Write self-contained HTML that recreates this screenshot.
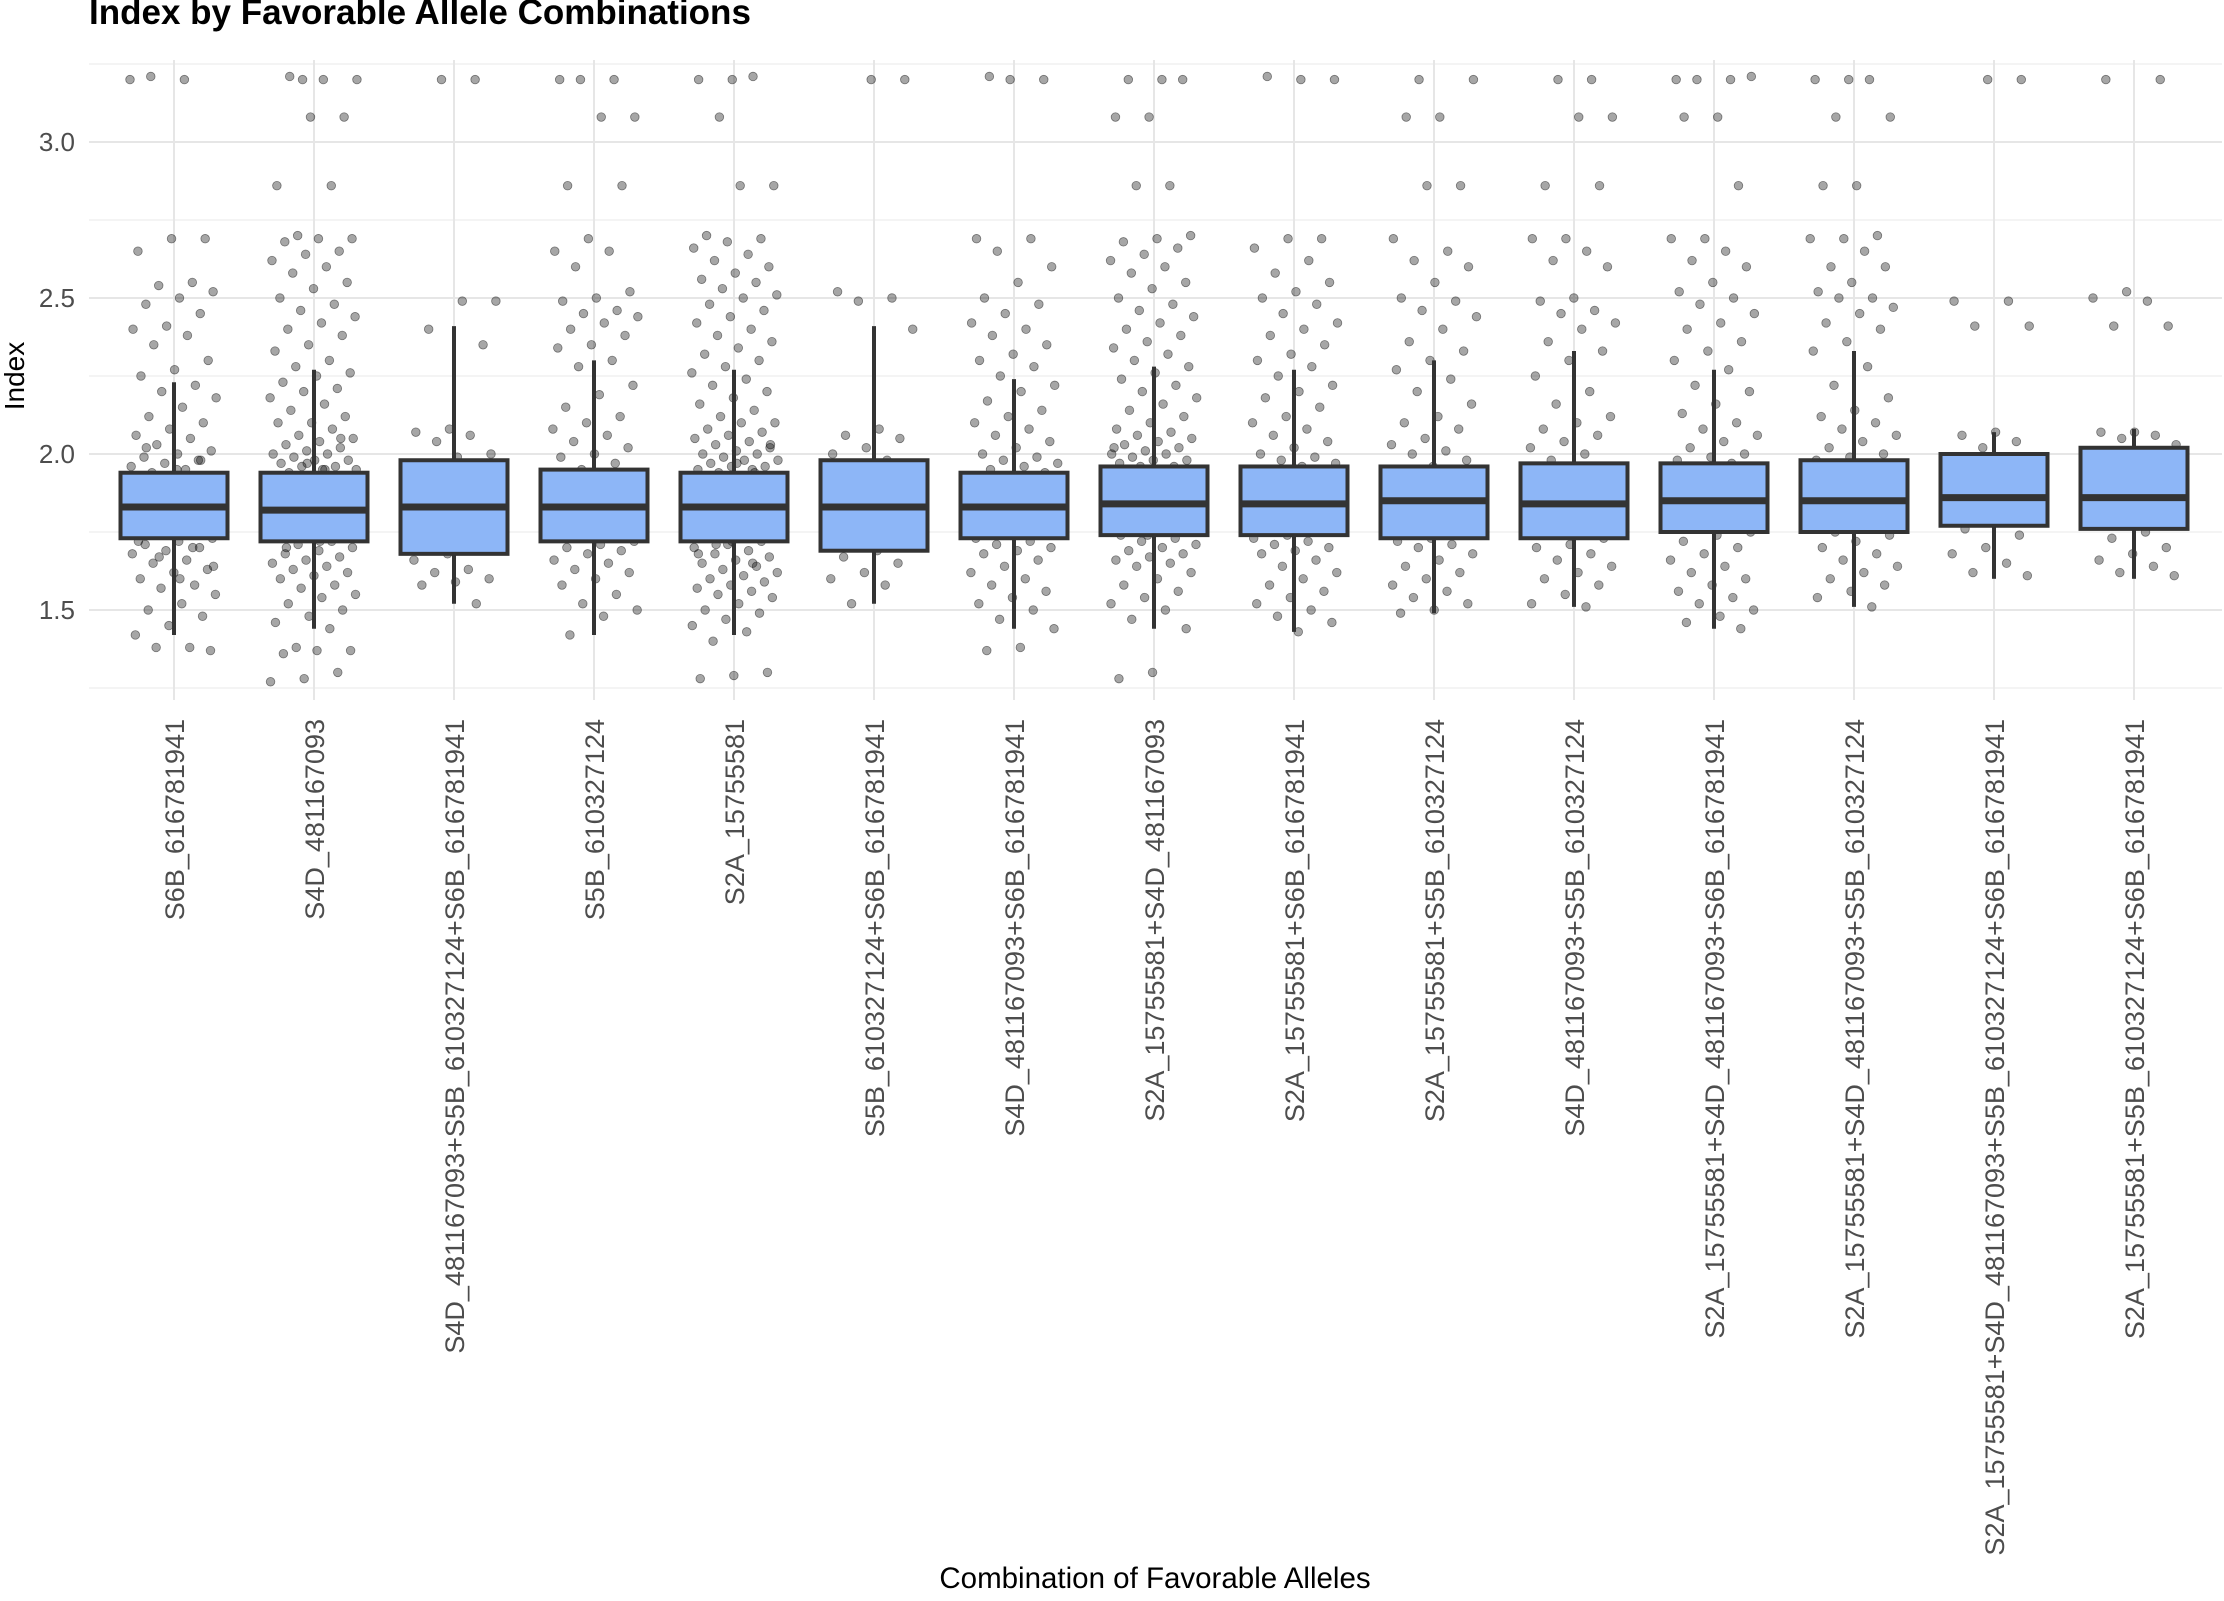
<!DOCTYPE html>
<html><head><meta charset="utf-8">
<style>
html,body{margin:0;padding:0;background:#fff;}
svg{display:block;font-family:"Liberation Sans",Arial,sans-serif;}
</style></head>
<body>
<svg id="chart" width="2224" height="1601" viewBox="0 0 2224 1601">
  <text x="89" y="24" font-size="35" font-weight="bold" fill="#000">Index by Favorable Allele Combinations</text>
  <g id="grid"></g>
  <g id="yticks"></g>
  <g id="points"></g>
  <g id="boxes"></g>
  <g id="xlabels"></g>
  <text x="0" y="0" transform="translate(24,376) rotate(-90)" text-anchor="middle" font-size="28" fill="#000">Index</text>
  <text x="1155" y="1588" text-anchor="middle" font-size="29.5" fill="#000">Combination of Favorable Alleles</text>
</svg>
<script>
const categories = ["S6B_616781941","S4D_481167093","S4D_481167093+S5B_610327124+S6B_616781941","S5B_610327124","S2A_15755581","S5B_610327124+S6B_616781941","S4D_481167093+S6B_616781941","S2A_15755581+S4D_481167093","S2A_15755581+S6B_616781941","S2A_15755581+S5B_610327124","S4D_481167093+S5B_610327124","S2A_15755581+S4D_481167093+S6B_616781941","S2A_15755581+S4D_481167093+S5B_610327124","S2A_15755581+S4D_481167093+S5B_610327124+S6B_616781941","S2A_15755581+S5B_610327124+S6B_616781941"];
const q1 = [1.73,1.72,1.68,1.72,1.72,1.69,1.73,1.74,1.74,1.73,1.73,1.75,1.75,1.77,1.76];
const medians = [1.83,1.82,1.83,1.83,1.83,1.83,1.83,1.84,1.84,1.85,1.84,1.85,1.85,1.86,1.86];
const q3 = [1.94,1.94,1.98,1.95,1.94,1.98,1.94,1.96,1.96,1.96,1.97,1.97,1.98,2.00,2.02];
const whiskerLow = [1.42,1.44,1.52,1.42,1.42,1.52,1.44,1.44,1.43,1.49,1.51,1.44,1.51,1.60,1.60];
const whiskerHigh = [2.23,2.27,2.41,2.30,2.27,2.41,2.24,2.28,2.27,2.30,2.33,2.27,2.33,2.07,2.08];
const yTicks = [1.5,2.0,2.5,3.0];
const yTickLabels = ["1.5","2.0","2.5","3.0"];
const yMinor = [1.25,1.75,2.25,2.75,3.25];
const pts0 = [3.2,3.2,3.21,2.69,2.69,2.65,2.55,2.54,2.52,2.5,2.48,2.45,2.41,2.4,2.38,2.35,2.3,2.27,2.25,2.22,2.2,2.18,2.15,2.12,2.1,2.08,2.06,2.05,2.03,2.01,2.0,1.99,1.98,1.97,1.96,1.95,1.94,1.93,1.92,1.91,1.9,1.9,1.89,1.88,1.87,1.86,1.86,1.85,1.84,1.84,1.83,1.83,1.82,1.82,1.81,1.8,1.8,1.79,1.78,1.77,1.76,1.75,1.74,1.73,1.72,1.71,1.7,1.69,1.68,1.66,1.65,1.63,1.62,1.6,1.58,1.57,1.55,1.52,1.5,1.48,1.45,1.42,1.38,1.38,1.37,1.95,1.9,1.87,1.85,1.83,1.81,1.79,1.77,1.75,1.72,1.7,1.67,1.64,1.6,2.02,1.98,1.92,1.88];
const pts1 = [3.2,3.2,3.2,3.21,3.08,3.08,2.86,2.86,2.7,2.69,2.69,2.68,2.65,2.64,2.62,2.6,2.58,2.55,2.53,2.5,2.48,2.46,2.44,2.42,2.4,2.38,2.35,2.33,2.3,2.28,2.26,2.25,2.23,2.21,2.2,2.18,2.16,2.14,2.12,2.1,2.1,2.08,2.06,2.05,2.04,2.03,2.02,2.01,2.0,2.0,1.99,1.98,1.98,1.97,1.96,1.96,1.95,1.95,1.94,1.93,1.93,1.92,1.91,1.91,1.9,1.9,1.89,1.88,1.88,1.87,1.87,1.86,1.86,1.85,1.85,1.84,1.84,1.83,1.83,1.82,1.82,1.81,1.81,1.8,1.8,1.79,1.79,1.78,1.78,1.77,1.76,1.76,1.75,1.74,1.74,1.73,1.72,1.71,1.7,1.69,1.68,1.67,1.66,1.65,1.64,1.63,1.62,1.61,1.6,1.58,1.57,1.55,1.54,1.52,1.5,1.48,1.46,1.44,1.38,1.37,1.37,1.36,1.3,1.28,1.27,1.95,1.9,1.86,1.84,1.82,1.8,1.78,1.75,1.72,1.7,2.05,1.97,1.93,1.89,1.85,1.83,1.81,1.79,1.76,1.73];
const pts2 = [3.2,3.2,2.49,2.49,2.4,2.35,2.08,2.07,2.06,2.04,2.0,1.99,1.97,1.93,1.9,1.88,1.86,1.85,1.84,1.82,1.8,1.79,1.78,1.77,1.75,1.73,1.7,1.68,1.66,1.63,1.62,1.6,1.59,1.58,1.52];
const pts3 = [3.2,3.2,3.2,3.08,3.08,2.86,2.86,2.69,2.65,2.65,2.6,2.52,2.5,2.49,2.46,2.45,2.44,2.42,2.4,2.38,2.35,2.34,2.3,2.28,2.22,2.19,2.15,2.12,2.1,2.08,2.06,2.04,2.02,2.0,1.99,1.97,1.95,1.94,1.92,1.91,1.9,1.89,1.88,1.87,1.86,1.85,1.84,1.83,1.82,1.81,1.8,1.79,1.78,1.77,1.76,1.75,1.74,1.73,1.72,1.71,1.7,1.69,1.68,1.66,1.65,1.63,1.62,1.6,1.58,1.55,1.52,1.5,1.48,1.42,1.9,1.85,1.8,1.76];
const pts4 = [3.2,3.2,3.21,3.08,2.86,2.86,2.7,2.69,2.68,2.66,2.64,2.62,2.6,2.58,2.56,2.55,2.53,2.51,2.5,2.48,2.46,2.44,2.42,2.4,2.38,2.36,2.34,2.32,2.3,2.28,2.26,2.24,2.22,2.2,2.18,2.16,2.14,2.12,2.1,2.1,2.08,2.07,2.06,2.05,2.04,2.03,2.02,2.01,2.0,2.0,1.99,1.98,1.98,1.97,1.96,1.96,1.95,1.95,1.94,1.93,1.93,1.92,1.91,1.91,1.9,1.9,1.89,1.88,1.88,1.87,1.87,1.86,1.86,1.85,1.85,1.84,1.84,1.83,1.83,1.82,1.82,1.81,1.81,1.8,1.8,1.79,1.79,1.78,1.78,1.77,1.76,1.76,1.75,1.74,1.74,1.73,1.72,1.71,1.7,1.69,1.68,1.67,1.66,1.65,1.64,1.63,1.62,1.61,1.6,1.59,1.58,1.57,1.56,1.55,1.54,1.52,1.5,1.49,1.47,1.45,1.43,1.4,1.3,1.29,1.28,1.94,1.9,1.87,1.85,1.83,1.81,1.79,1.77,1.74,1.71,2.03,1.97,1.92,1.88,1.84,1.82,1.8,1.78,1.75,1.72,1.68,1.65];
const pts5 = [3.2,3.2,2.52,2.5,2.49,2.4,2.08,2.06,2.05,2.02,2.0,1.98,1.96,1.94,1.92,1.9,1.88,1.86,1.85,1.83,1.82,1.8,1.79,1.77,1.75,1.73,1.71,1.69,1.67,1.65,1.62,1.6,1.58,1.52];
const pts6 = [3.21,3.2,3.2,2.69,2.69,2.65,2.6,2.55,2.5,2.48,2.45,2.42,2.4,2.38,2.35,2.32,2.3,2.28,2.25,2.22,2.2,2.17,2.14,2.12,2.1,2.08,2.06,2.04,2.02,2.0,1.99,1.98,1.97,1.96,1.95,1.94,1.93,1.92,1.91,1.9,1.89,1.88,1.87,1.86,1.85,1.84,1.84,1.83,1.83,1.82,1.81,1.8,1.79,1.78,1.77,1.76,1.75,1.74,1.73,1.72,1.71,1.7,1.69,1.68,1.66,1.64,1.62,1.6,1.58,1.56,1.54,1.52,1.5,1.47,1.44,1.38,1.37,1.9,1.85,1.8,1.76];
const pts7 = [3.2,3.2,3.2,3.08,3.08,2.86,2.86,2.7,2.69,2.68,2.66,2.64,2.62,2.6,2.58,2.55,2.53,2.5,2.48,2.46,2.44,2.42,2.4,2.38,2.36,2.34,2.32,2.3,2.28,2.26,2.24,2.22,2.2,2.18,2.16,2.14,2.12,2.1,2.08,2.07,2.06,2.05,2.04,2.03,2.02,2.01,2.0,2.0,1.99,1.98,1.98,1.97,1.96,1.96,1.95,1.95,1.94,1.93,1.93,1.92,1.91,1.9,1.9,1.89,1.88,1.88,1.87,1.86,1.86,1.85,1.85,1.84,1.84,1.83,1.83,1.82,1.81,1.8,1.8,1.79,1.78,1.78,1.77,1.76,1.75,1.74,1.73,1.72,1.71,1.7,1.69,1.68,1.67,1.66,1.65,1.64,1.62,1.6,1.58,1.56,1.54,1.52,1.5,1.47,1.44,1.3,1.28,1.95,1.9,1.86,1.83,1.8,1.77,1.74,2.02,1.92,1.87];
const pts8 = [3.2,3.2,3.21,2.69,2.69,2.66,2.62,2.58,2.55,2.52,2.5,2.48,2.45,2.42,2.4,2.38,2.35,2.32,2.3,2.28,2.25,2.22,2.2,2.18,2.15,2.12,2.1,2.08,2.06,2.04,2.02,2.0,1.99,1.98,1.97,1.96,1.95,1.94,1.93,1.92,1.91,1.9,1.89,1.88,1.87,1.86,1.85,1.85,1.84,1.84,1.83,1.82,1.81,1.8,1.79,1.78,1.77,1.76,1.75,1.74,1.73,1.72,1.71,1.7,1.69,1.68,1.66,1.64,1.62,1.6,1.58,1.56,1.54,1.52,1.5,1.48,1.46,1.43,1.9,1.86,1.82,1.78];
const pts9 = [3.2,3.2,3.08,3.08,2.86,2.86,2.69,2.65,2.62,2.6,2.55,2.5,2.49,2.46,2.44,2.4,2.36,2.33,2.3,2.27,2.24,2.2,2.16,2.12,2.1,2.08,2.05,2.03,2.01,2.0,1.98,1.96,1.95,1.93,1.92,1.9,1.89,1.88,1.87,1.86,1.85,1.84,1.83,1.82,1.81,1.8,1.79,1.78,1.77,1.76,1.75,1.74,1.73,1.72,1.71,1.7,1.68,1.66,1.64,1.62,1.6,1.58,1.56,1.54,1.52,1.5,1.49];
const pts10 = [3.2,3.2,3.08,3.08,2.86,2.86,2.69,2.69,2.65,2.62,2.6,2.5,2.49,2.46,2.45,2.42,2.4,2.36,2.33,2.3,2.25,2.2,2.16,2.12,2.1,2.08,2.06,2.04,2.02,2.0,1.98,1.96,1.95,1.93,1.92,1.9,1.89,1.88,1.87,1.86,1.85,1.84,1.83,1.82,1.81,1.8,1.79,1.78,1.77,1.76,1.75,1.74,1.73,1.71,1.7,1.68,1.66,1.64,1.62,1.6,1.58,1.55,1.52,1.51];
const pts11 = [3.2,3.2,3.2,3.21,3.08,3.08,2.86,2.69,2.69,2.65,2.62,2.6,2.55,2.52,2.5,2.48,2.45,2.42,2.4,2.36,2.33,2.3,2.27,2.22,2.2,2.16,2.13,2.1,2.08,2.06,2.04,2.02,2.0,1.99,1.98,1.97,1.96,1.95,1.94,1.93,1.92,1.91,1.9,1.89,1.88,1.87,1.86,1.85,1.85,1.84,1.83,1.82,1.81,1.8,1.79,1.78,1.77,1.76,1.75,1.74,1.72,1.7,1.68,1.66,1.64,1.62,1.6,1.58,1.56,1.54,1.52,1.5,1.48,1.46,1.44,1.9,1.84,1.78];
const pts12 = [3.2,3.2,3.2,3.08,3.08,2.86,2.86,2.7,2.69,2.69,2.65,2.6,2.6,2.55,2.52,2.5,2.5,2.47,2.45,2.42,2.4,2.36,2.33,2.28,2.22,2.18,2.14,2.12,2.1,2.08,2.06,2.04,2.02,2.0,1.99,1.98,1.97,1.96,1.95,1.94,1.93,1.92,1.91,1.9,1.89,1.88,1.87,1.86,1.85,1.84,1.83,1.82,1.81,1.8,1.79,1.78,1.77,1.76,1.75,1.74,1.72,1.7,1.68,1.66,1.64,1.62,1.6,1.58,1.56,1.54,1.51];
const pts13 = [3.2,3.2,2.49,2.49,2.41,2.41,2.07,2.06,2.04,2.02,1.99,1.96,1.93,1.9,1.88,1.86,1.84,1.82,1.8,1.78,1.76,1.74,1.7,1.68,1.65,1.62,1.61];
const pts14 = [3.2,3.2,2.52,2.5,2.49,2.41,2.41,2.07,2.07,2.06,2.05,2.03,2.0,1.98,1.96,1.94,1.92,1.9,1.88,1.86,1.85,1.83,1.81,1.79,1.77,1.75,1.73,1.7,1.68,1.66,1.64,1.62,1.61];
const pointSets = [pts0,pts1,pts2,pts3,pts4,pts5,pts6,pts7,pts8,pts9,pts10,pts11,pts12,pts13,pts14];

const NS = "http://www.w3.org/2000/svg";
const PL = 89, PR = 2222, PT = 60, PB = 700;
const step = 140;
function xScale(i){ return 174 + step * i; }
function yScale(v){ return 454 - (v - 2.0) * 312; }
function mk(tag, attrs, parent){
  const e = document.createElementNS(NS, tag);
  for (const k in attrs) e.setAttribute(k, attrs[k]);
  parent.appendChild(e);
  return e;
}
const grid = document.getElementById("grid");
yMinor.forEach(v => {
  const l = mk("line", {x1:PL, x2:PR, y1:yScale(v), y2:yScale(v), stroke:"#f0f0f0", "stroke-width":1.5}, grid);
  
  
});
yTicks.forEach((v, i) => {
  const l = mk("line", {x1:PL, x2:PR, y1:yScale(v), y2:yScale(v), stroke:"#e6e6e6", "stroke-width":2}, grid);
  
  
  const t = mk("text", {x:75, y:yScale(v) + 9, "text-anchor":"end", "font-size":26, fill:"#4d4d4d"}, document.getElementById("yticks"));
  t.textContent = yTickLabels[i];
  
  
});
categories.forEach((c, i) => {
  const l = mk("line", {x1:xScale(i), x2:xScale(i), y1:PT, y2:PB, stroke:"#e6e6e6", "stroke-width":2}, grid);
  
  
});
const bw = 107;
const boxes = document.getElementById("boxes");
categories.forEach((c, i) => {
  const x = xScale(i);
  const g = mk("g", {}, boxes);
  
  
  mk("line", {x1:x, x2:x, y1:yScale(whiskerHigh[i]), y2:yScale(q3[i]), stroke:"#333", "stroke-width":4}, g);
  mk("line", {x1:x, x2:x, y1:yScale(q1[i]), y2:yScale(whiskerLow[i]), stroke:"#333", "stroke-width":4}, g);
  mk("rect", {x:x - bw/2, y:yScale(q3[i]), width:bw, height:yScale(q1[i]) - yScale(q3[i]), fill:"#8DB6F7", stroke:"#333", "stroke-width":4}, g);
  mk("line", {x1:x - bw/2, x2:x + bw/2, y1:yScale(medians[i]), y2:yScale(medians[i]), stroke:"#333", "stroke-width":7}, g);
});
const ptsG = document.getElementById("points");
pointSets.forEach((arr, i) => {
  const x = xScale(i);
  arr.forEach((v, j) => {
    const u = ((j * 0.6180339 + i * 0.37) % 1) - 0.5;
    const jit = u * 2 * 44;
    const c = mk("circle", {cx:x + jit, cy:yScale(v), r:4.3, fill:"#000", "fill-opacity":0.35, stroke:"#000", "stroke-opacity":0.45, "stroke-width":0.8}, ptsG);
    
    
  });
});
const xl = document.getElementById("xlabels");
categories.forEach((c, i) => {
  const t = mk("text", {transform:"translate(" + (xScale(i) + 10) + ",719) rotate(-90)", "text-anchor":"end", "font-size":27, fill:"#4d4d4d"}, xl);
  t.textContent = c;
  
  
});
</script>
</body></html>
